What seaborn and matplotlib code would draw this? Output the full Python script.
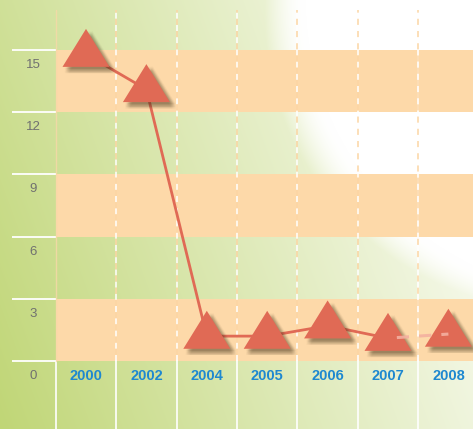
import numpy as np
import pandas as pd
import matplotlib
matplotlib.use("Agg")
import matplotlib.pyplot as plt
import matplotlib.patheffects as pe
from matplotlib.markers import MarkerStyle
import seaborn as sns

# ---- data ----
years = ["2000", "2002", "2004", "2005", "2006", "2007", "2008"]
values = [14.8, 13.1, 1.2, 1.2, 1.7, 1.1, 1.3]
ytick_values = [0, 3, 6, 9, 12, 15]
bands = [(0, 3), (6, 9), (12, 15)]

sns.set_style("white")
plt.rcParams['font.family'] = ['Liberation Sans', 'DejaVu Sans']

W, H = 473, 429
fig = plt.figure(figsize=(W / 100, H / 100), dpi=100)
ax = fig.add_axes([0, 0, 1, 1])

pxu = 60.4       # px per category
pyu = 20.73      # px per value unit
x0v = -0.5 - 55.8 / pxu
x1v = x0v + W / pxu
y1v = 361 / pyu
y0v = -(H - 361) / pyu
ax.set_xlim(x0v, x1v)
ax.set_ylim(y0v, y1v)
ax.axis("off")

# ---- background gradient ----
X, Y = np.meshgrid(np.arange(W) + 0.5, np.arange(H) + 0.5)
s = 0.75 * X / W + 0.25 * (1 - Y / H)
d = np.hypot(X - 600, Y - 0)
r = np.clip((400 - d) / 105, 0, 1)
r = r * r * (3 - 2 * r)
t = np.clip(np.maximum(s, r), 0, 1)[..., None]
base = np.array([192, 214, 118]) / 255.0
img = base * (1 - t) + 1.0 * t
ax.imshow(img, extent=[x0v, x1v, y0v, y1v], aspect="auto", zorder=0,
          interpolation="bilinear")

# ---- orange bands ----
band_col = "#fdd9a9"
xfrac = (-0.5 - x0v) / (x1v - x0v)
for b0, b1 in bands:
    ax.axhspan(b0, b1, xmin=xfrac, xmax=1, color=band_col, lw=0, zorder=1)

# ---- left tick lines + labels ----
top_v = 16.93
for v in ytick_values:
    ax.plot([-1.225, -0.5], [v, v], color="white", lw=1.3, zorder=2,
            solid_capstyle="butt")
    ax.text(-0.878, v - 0.72, str(v), ha="center", va="center",
            fontsize=9.5, color="#707070", zorder=6)

# ---- vertical separators ----
n = len(years)
for i in range(n):
    xb = i - 0.5
    ax.plot([xb, xb], [y0v, 0], color="white", lw=1.2, zorder=2)
    if i == 0:
        ax.plot([xb, xb], [0, top_v], color="#f8d8a8", lw=1.0, alpha=0.8,
                zorder=2)
        continue
    if i == n - 1:
        ax.plot([xb, xb], [0, top_v], color="white", lw=1.2, zorder=2)
    else:
        ax.plot([xb, xb], [0, top_v], color="white", lw=1.1, zorder=2,
                linestyle=(0, (4, 4)))
    ax.plot([xb, xb], [0, top_v], color="#fcd6a4", lw=1.1, zorder=2.1,
            linestyle=(4, (4, 4)))

# ---- data ----
df = pd.DataFrame({"pos": np.arange(n), "year": years, "value": values})
solid = df.iloc[:n - 1]
dashed = df.iloc[n - 2:]

line_col = "#e06a55"
sns.lineplot(data=solid, x="pos", y="value", ax=ax, color=line_col, lw=2.0,
             zorder=3, sort=False)

h = 38.0
wdt = 23.5
verts = [(0, 2 * h / 3), (-wdt, -h / 3), (wdt, -h / 3), (0, 2 * h / 3)]
tri = MarkerStyle(verts)
mpx = 2 * (2 * h / 3)
ms_pt = mpx * 72 / 100

shadows = []
for dx in [1.5, 2.5, 3.5, 4.5]:
    for dy in [-1.5, -2.5, -3.5, -4.5]:
        shadows.append(pe.SimplePatchShadow(offset=(dx, dy),
                                            shadow_rgbFace="#4a3a20",
                                            alpha=0.045))
sns.scatterplot(data=df, x="pos", y="value", ax=ax, marker=tri,
                s=ms_pt ** 2, color=line_col, edgecolor="none",
                linewidth=0, zorder=4, legend=False)
for coll in ax.collections:
    coll.set_path_effects(shadows + [pe.Normal()])

sns.lineplot(data=dashed, x="pos", y="value", ax=ax, color="#f4b0a0",
             alpha=0.9, lw=2.2, zorder=5, linestyle=(4.4, (4, 3.3)))

# ---- category labels ----
for i, yr in enumerate(years):
    ax.text(i, -0.72, yr, ha="center", va="center", fontsize=10.5,
            fontweight="bold", color="#1e88d0", zorder=6)

ax.set_xlim(x0v, x1v)
ax.set_ylim(y0v, y1v)
ax.set_xlabel("")
ax.set_ylabel("")
fig.savefig("out.png", dpi=100)
